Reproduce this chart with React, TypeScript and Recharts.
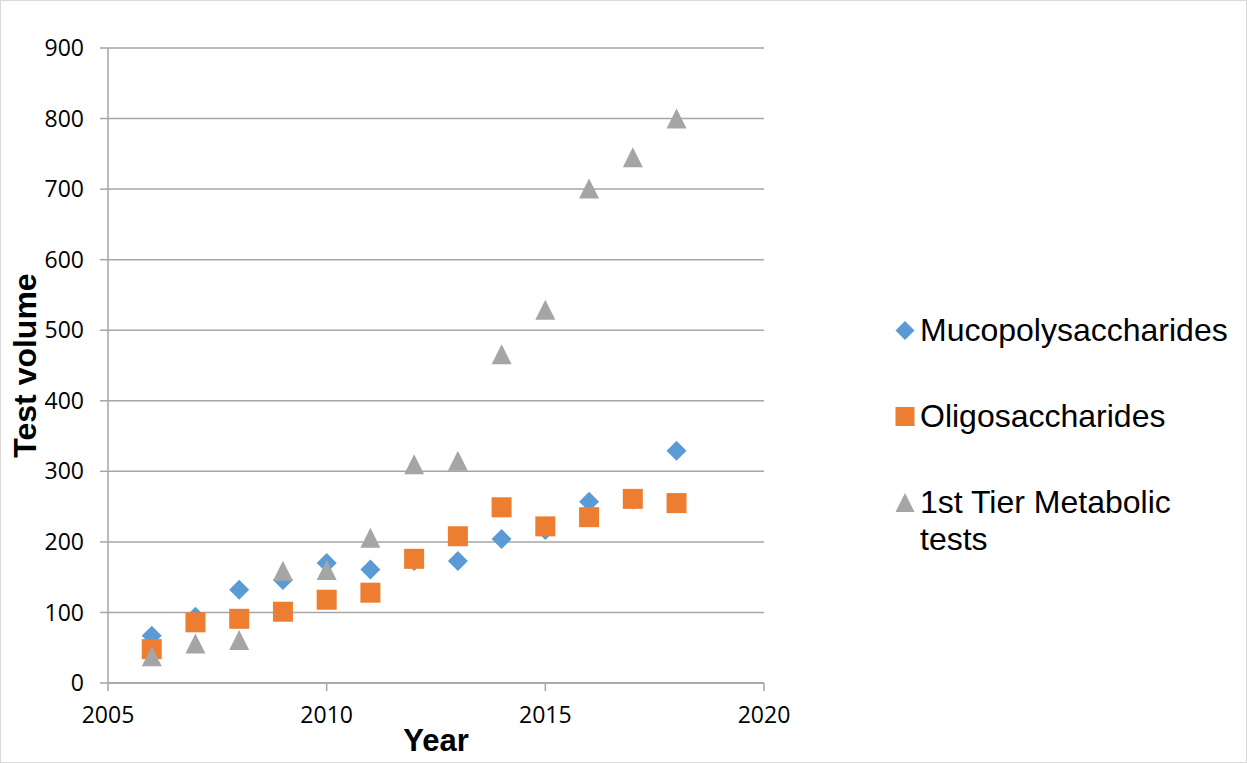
import React from "react";
import { ScatterChart, Scatter, XAxis, YAxis, CartesianGrid, Legend } from "recharts";

const years = [2006, 2007, 2008, 2009, 2010, 2011, 2012, 2013, 2014, 2015, 2016, 2017, 2018];
const muco = [67, 94, 132, 146, 170, 161, 173, 173, 204, 217, 257, 260, 329];
const oligo = [48, 86, 91, 101, 118, 128, 176, 208, 249, 222, 235, 261, 255];
const tier1 = [38, 56, 61, 159, 160, 206, 310, 315, 466, 529, 701, 745, 800];

const xTicks = [2005, 2010, 2015, 2020];
const yTicks = [0, 100, 200, 300, 400, 500, 600, 700, 800, 900];

const BLUE = "#5B9BD5";
const ORANGE = "#ED7D31";
const GRAY = "#A5A5A5";
const AXIS = "#a6a6a6";

const toPoints = (vals: number[]) => years.map((year, i) => ({ year, value: vals[i] }));

function Diamond({ cx, cy, fill, r = 10 }: any) {
  return <polygon points={`${cx},${cy - r} ${cx + r},${cy} ${cx},${cy + r} ${cx - r},${cy}`} fill={fill} />;
}

function Square({ cx, cy, fill, r = 10 }: any) {
  return <rect x={cx - r} y={cy - r} width={r * 2} height={r * 2} fill={fill} />;
}

function Triangle({ cx, cy, fill, r = 10 }: any) {
  return <polygon points={`${cx},${cy - r} ${cx + r},${cy + r} ${cx - r},${cy + r}`} fill={fill} />;
}

const series = [
  { name: "Mucopolysaccharides", color: BLUE, Shape: Diamond, data: toPoints(muco) },
  { name: "Oligosaccharides", color: ORANGE, Shape: Square, data: toPoints(oligo) },
  { name: "1st Tier Metabolic tests", color: GRAY, Shape: Triangle, data: toPoints(tier1) },
];

function LegendBox() {
  return (
    <div style={{ width: 340, fontFamily: "'Liberation Sans', Arial, sans-serif", fontSize: 32, lineHeight: "37px", color: "#000" }}>
      {series.map((s) => (
        <div key={s.name} style={{ display: "flex", alignItems: "flex-start", marginBottom: 49 }}>
          <svg width={25} height={37} style={{ flex: "none" }}>
            <s.Shape cx={10} cy={18.5} r={9.5} fill={s.color} />
          </svg>
          <div style={{ width: 315 }}>{s.name}</div>
        </div>
      ))}
    </div>
  );
}

const tickStyle = { fontFamily: "'Open Sans', sans-serif", fontSize: 23, fill: "#000" };
const titleFont = { fontFamily: "'Liberation Sans', Arial, sans-serif", fontWeight: 700, fill: "#000" };

export default function App() {
  return (
    <div style={{ position: "absolute", left: 0, top: 0, width: 1247, height: 763, background: "#fff" }}>
      <ScatterChart width={1247} height={763} margin={{ top: 48, right: 143, bottom: 0, left: 0 }}>
        <CartesianGrid vertical={false} stroke={AXIS} strokeWidth={1.5} />
        <XAxis
          type="number"
          dataKey="year"
          domain={[2005, 2020]}
          ticks={xTicks}
          height={80}
          stroke={AXIS}
          strokeWidth={1.5}
          tickSize={8}
          tickMargin={16}
          tick={tickStyle}
          label={{ value: "Year", position: "insideBottom", offset: 12, style: { ...titleFont, fontSize: 31 } }}
        />
        <YAxis
          type="number"
          dataKey="value"
          domain={[0, 900]}
          ticks={yTicks}
          width={108}
          stroke={AXIS}
          strokeWidth={1.5}
          tickSize={8}
          tickMargin={16}
          tick={tickStyle}
          label={{ value: "Test volume", angle: -90, position: "insideLeft", offset: 25, style: { ...titleFont, fontSize: 32, textAnchor: "middle" } }}
        />
        <Legend layout="vertical" align="right" verticalAlign="middle" content={<LegendBox />} wrapperStyle={{ left: 895, top: 312, width: 340 }} />
        {series.map((s) => (
          <Scatter key={s.name} name={s.name} data={s.data} fill={s.color} shape={<s.Shape />} isAnimationActive={false} />
        ))}
      </ScatterChart>
      <div style={{ position: "absolute", inset: 0, border: "1px solid #d9d9d9", pointerEvents: "none" }} />
    </div>
  );
}
